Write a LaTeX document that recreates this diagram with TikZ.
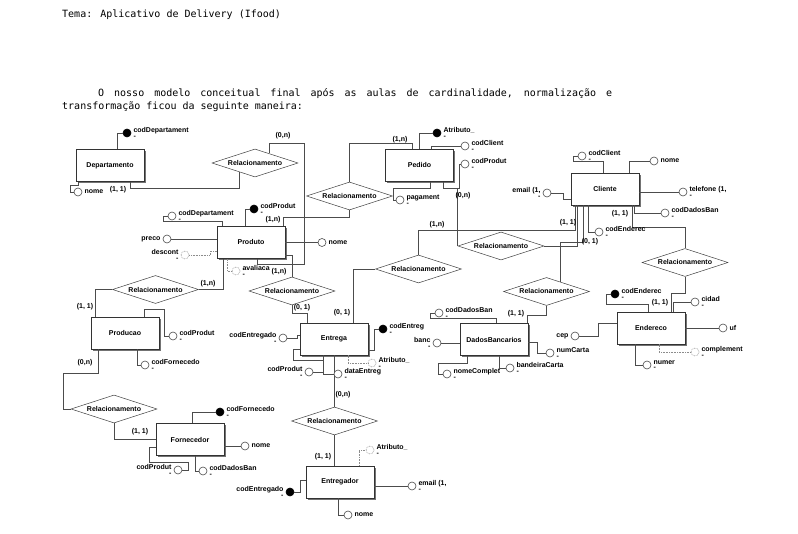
\documentclass[tikz,border=0pt]{standalone}
\usepackage{fontspec}
\newfontfamily\lblfont{Liberation Sans}
\newfontfamily\txtfont{DejaVu Sans Mono}
\usetikzlibrary{shapes.geometric,shadows,positioning}

\begin{document}
\begin{tikzpicture}%
	[x=1pt, y=-1pt,
	lbl/.style={font=\lblfont\fontsize{7}{7.5}\selectfont\bfseries},
	entity/.style={lbl, rectangle, draw=black!80, line width=0.8pt, fill=white,
		minimum width=68pt, minimum height=32pt, inner sep=0pt,
		drop shadow={shadow xshift=1.6pt, shadow yshift=-1.6pt, fill=black!55, opacity=1}},
	relation/.style={lbl, diamond, aspect=3, draw=black!75, line width=0.5pt, fill=white,
		minimum width=86pt, minimum height=28pt, inner sep=0pt},
	attr/.style={circle, draw=black!70, line width=0.6pt, fill=white, minimum size=8pt, inner sep=0pt},
	keyattr/.style={attr, fill=black, draw=black},
	optattr/.style={attr, draw=black!50, densely dotted},
	link/.style={draw=black!70, line width=0.6pt},
	optlink/.style={draw=black!45, line width=0.6pt, densely dotted},
	card/.style={lbl, inner sep=0pt},
	rname/.style={lbl, inner sep=0pt, align=left},
	lname/.style={lbl, inner sep=0pt, align=right},
	heading/.style={font=\txtfont\fontsize{10}{12}\selectfont, inner sep=0pt, text=black}]
	%
	\fill[white] (0,0) rectangle (798,534);
	%%
	%% Text above the model
	%%
	\node[heading, anchor=base west] (tema) at (62,18) {Tema: Aplicativo de Delivery (Ifood)};
	\node[heading, anchor=base west] (intro) at (98,97) {\hbox to 514pt{\spaceskip=6pt plus 1fil\relax O nosso modelo conceitual final após as aulas de cardinalidade, normalização e}};
	\node[heading, anchor=base west] (introb) at (62,110) {transformação ficou da seguinte maneira:};
	%%
	%% Entities
	%%
	\node[entity] (dep) at (110,165.5) {Departamento};
	\node[entity] (prod) at (251,242.5) {Produto};
	\node[entity] (ped) at (419.5,165.5) {Pedido};
	\node[entity] (cli) at (605,189) {Cliente};
	\node[entity] (ender) at (651,328) {Endereco};
	\node[entity] (dad) at (494,339.5) {DadosBancarios};
	\node[entity] (ent) at (334,339) {Entrega};
	\node[entity] (pro) at (125,333) {Producao};
	\node[entity] (forn) at (190,439.5) {Fornecedor};
	\node[entity] (egr) at (340,482) {Entregador};
	%%
	%% Relationships
	%%
	\node[relation] (rdp) at (255,163) {Relacionamento};
	\node[relation] (rpp) at (349.5,196) {Relacionamento};
	\node[relation] (rpc) at (501,246) {Relacionamento};
	\node[relation] (rec) at (418.5,269) {Relacionamento};
	\node[relation] (rpe) at (292,291) {Relacionamento};
	\node[relation] (rpr) at (155.5,289.5) {Relacionamento};
	\node[relation] (rdb) at (546.5,291.5) {Relacionamento};
	\node[relation] (rce) at (685,262.5) {Relacionamento};
	\node[relation] (rpf) at (114,409) {Relacionamento};
	\node[relation] (rer) at (334.5,421) {Relacionamento};
	%%
	%% Lines between entities and relationships
	%%
	\draw[link] ([xshift=20pt]dep.south) -- ++(0,6) -| (rdp.211);
	\draw[link] (rdp.34) |- (304,143) -- (304,264) -| ([xshift=6pt]prod.south);
	\draw[link] ([xshift=-2pt]prod.north east) -- ++(0,-9) -| (rpp.south);
	\draw[link] (rpp.north) -- ++(0,-38) -| ([xshift=-7.5pt]ped.north);
	\draw[link] ([xshift=23.5pt]ped.south) -- ++(0,6) -| (rpc.west);
	\draw[link] (rpc.east) -| ([xshift=-28pt]cli.south);
	\draw[link] (rec.north) -- ++(0,-24) -| ([xshift=-30pt]cli.south);
	\draw[link] ([xshift=19pt]ent.north) |- (rec.west);
	\draw[link] (rdb.35) -- ++(0,-39.5) -| ([xshift=-22pt]cli.south);
	\draw[link] ([xshift=-1pt]dad.north east) -- ++(0,-8) -| (rdb.south);
	\draw[link] ([xshift=27pt]cli.south) -- ++(0,22) -| (rce.north);
	\draw[link] (rce.south) -- ++(0,17) -| ([xshift=20pt]ender.north);
	\draw[link] ([xshift=-28pt]prod.south) |- (rpr.east);
	\draw[link] (rpr.west) -| ([xshift=-30pt]pro.north);
	\draw[link] ([yshift=3.5pt]prod.south east) -| (rpe.north);
	\draw[link] (rpe.south) -- ++(0,8) -| ([xshift=-27pt]ent.north);
	\draw[link] ([xshift=-27pt]pro.south) -- ++(0,24) -| ([xshift=-7pt]rpf.west) -- (rpf.west);
	\draw[link] (rpf.south) |- (forn.west);
	\draw[link] (ent.south) -- (ent.south |- rer.north);
	\draw[link] (rer.south) -- (rer.south |- egr.north);
	%%
	%% Cardinalities
	%%
	\node[card] (cdep) at (118,190) {(1, 1)};
	\node[card] (cprodb) at (283,136) {(0,n)};
	\node[card] (cprodc) at (273,220) {(1,n)};
	\node[card] (cpeda) at (400,140) {(1,n)};
	\node[card] (cpedb) at (463,196) {(0,n)};
	\node[card] (ccla) at (568,223) {(1, 1)};
	\node[card] (cent) at (437,225) {(1,n)};
	\node[card] (cclb) at (590,242) {(0, 1)};
	\node[card] (cclc) at (620,214) {(1, 1)};
	\node[card] (cender) at (660,303) {(1, 1)};
	\node[card] (cdad) at (516,314) {(1, 1)};
	\node[card] (centa) at (342,313) {(0, 1)};
	\node[card] (centb) at (302,308) {(0, 1)};
	\node[card] (cprodd) at (279,272) {(1,n)};
	\node[card] (cproda) at (208,284) {(1,n)};
	\node[card] (cproa) at (85,307) {(1, 1)};
	\node[card] (cprob) at (85,363) {(0,n)};
	\node[card] (cforn) at (140,432) {(1, 1)};
	\node[card] (centc) at (343,395) {(0,n)};
	\node[card] (cegr) at (323,457) {(1, 1)};
	%%
	%% Attributes of Departamento
	%%
	\node[keyattr] (dpcod) at (127,133) {};
	\node[rname, right=2pt of dpcod] (dpcodl) {codDepartament\\[-2pt]-};
	\node[attr] (dpnome) at (78,192) {};
	\node[rname, right=2pt of dpnome] (dpnomel) {nome};
	\draw[link] ([xshift=7pt]dep.north) |- (dpcod);
	\draw[link] ([xshift=3pt]dep.south west) -- ++(0,3) -| ([xshift=-8pt]dpnome.center) -- (dpnome);
	%%
	%% Attributes of Produto
	%%
	\node[keyattr] (pdcod) at (254,209) {};
	\node[rname, right=2pt of pdcod] (pdcodl) {codProdut\\[-2pt]-};
	\node[attr] (pddep) at (172,216) {};
	\node[rname, right=2pt of pddep] (pddepl) {codDepartament\\[-2pt]-};
	\node[attr] (pdpreco) at (167,239) {};
	\node[lname, left=2pt of pdpreco] (pdprecol) {preco};
	\node[optattr] (pddesc) at (185,255) {};
	\node[lname, left=2pt of pddesc] (pddescl) {descont\\[-2pt]-};
	\node[attr] (pdnome) at (322,242.5) {};
	\node[rname, right=2pt of pdnome] (pdnomel) {nome};
	\node[optattr] (pdaval) at (236,271) {};
	\node[rname, right=2pt of pdaval] (pdavall) {avaliaca\\[-2pt]-};
	\draw[link] ([xshift=-6pt]prod.north) |- (pdcod);
	\draw[link] ([xshift=-29pt]prod.north) -- ++(0,-5) -| ([xshift=-9pt]pddep.center) -- (pddep);
	\draw[link] (pdpreco) -- (pdpreco -| prod.west);
	\draw[optlink] (pddesc) -- ++(25,0) |- ([yshift=-9pt]prod.west);
	\draw[link] (prod.east) -- (pdnome);
	\draw[optlink] ([xshift=-24pt]prod.south) |- (pdaval);
	%%
	%% Attributes of Pedido
	%%
	\node[keyattr] (peatr) at (437,133) {};
	\node[rname, right=2pt of peatr] (peatrl) {Atributo\_\\[-2pt]-};
	\node[attr] (pecli) at (465,146) {};
	\node[rname, right=2pt of pecli] (peclil) {codClient\\[-2pt]-};
	\node[attr] (peprod) at (465,164) {};
	\node[rname, right=2pt of peprod] (peprodl) {codProdut\\[-2pt]-};
	\node[attr] (pepag) at (400,200) {};
	\node[rname, right=2pt of pepag] (pepagl) {pagament\\[-2pt]-};
	\draw[link] ([xshift=-0.5pt]ped.north) |- (peatr);
	\draw[link] ([xshift=12pt]ped.north) |- (pecli);
	\draw[link] ([xshift=23.5pt]ped.south) -- ++(0,6) -- ++(16,0) |- (peprod);
	\draw[link] ([xshift=10.5pt]ped.south) -- ++(0,6) -| ([xshift=-7pt]pepag.center) -- (pepag);
	%%
	%% Attributes of Cliente
	%%
	\node[attr] (clcod) at (582,156) {};
	\node[rname, right=2pt of clcod] (clcodl) {codClient\\[-2pt]-};
	\node[attr] (clnome) at (654,161) {};
	\node[rname, right=2pt of clnome] (clnomel) {nome};
	\node[attr] (cltel) at (683,192) {};
	\node[rname, right=2pt of cltel] (cltell) {telefone (1,\\[-2pt]-};
	\node[attr] (cldad) at (665,213) {};
	\node[rname, right=2pt of cldad] (cldadl) {codDadosBan\\[-2pt]-};
	\node[attr] (clmail) at (547,193) {};
	\node[lname, left=2pt of clmail] (clmaill) {email (1,\\[-2pt]-};
	\node[attr] (clend) at (599,232) {};
	\node[rname, right=2pt of clend] (clendl) {codEnderec\\[-2pt]-};
	\draw[link] ([xshift=-2pt]cli.north) -- ++(0,-11) -| ([xshift=-9pt]clcod.center) -- (clcod);
	\draw[link] ([xshift=24pt]cli.north) |- (clnome);
	\draw[link] (cli.east |- cltel) -- (cltel);
	\draw[link] ([xshift=29pt]cli.south) |- (cldad);
	\draw[link] (clmail) -- ++(16,0) |- ([yshift=-10pt]cli.west);
	\draw[link] ([xshift=-17pt]cli.south) |- (clend);
	%%
	%% Attributes of Endereco
	%%
	\node[keyattr] (encod) at (615,294) {};
	\node[rname, right=2pt of encod] (encodl) {codEnderec\\[-2pt]-};
	\node[attr] (encid) at (695,302) {};
	\node[rname, right=2pt of encid] (encidl) {cidad\\[-2pt]-};
	\node[attr] (enuf) at (723,328) {};
	\node[rname, right=2pt of enuf] (enufl) {uf};
	\node[optattr] (encomp) at (695,352) {};
	\node[rname, right=2pt of encomp] (encompl) {complement\\[-2pt]-};
	\node[attr] (ennum) at (647,365) {};
	\node[rname, right=2pt of ennum] (ennuml) {numer\\[-2pt]-};
	\node[attr] (encep) at (575,336) {};
	\node[lname, left=2pt of encep] (encepl) {cep};
	\draw[link] ([xshift=-3pt]ender.north) -- ++(0,-7) -| ([xshift=-9pt]encod.center) -- (encod);
	\draw[link] ([xshift=22pt]ender.north) |- (encid);
	\draw[link] (ender.east) -- (enuf);
	\draw[optlink] ([xshift=8pt]ender.south) |- (encomp);
	\draw[link] ([xshift=-16pt]ender.south) |- (ennum);
	\draw[link] (encep) -- ++(23,0) |- ([yshift=5pt]ender.west);
	%%
	%% Attributes of DadosBancarios
	%%
	\node[attr] (dbcod) at (439,313) {};
	\node[rname, right=2pt of dbcod] (dbcodl) {codDadosBan\\[-2pt]-};
	\node[attr] (dbbanc) at (437,343) {};
	\node[lname, left=2pt of dbbanc] (dbbancl) {banc\\[-2pt]-};
	\node[attr] (dbnome) at (447,374) {};
	\node[rname, right=2pt of dbnome] (dbnomel) {nomeComplet\\[-2pt]-};
	\node[attr] (dbband) at (510,368) {};
	\node[rname, right=2pt of dbband] (dbbandl) {bandeiraCarta\\[-2pt]-};
	\node[attr] (dbnum) at (550,353) {};
	\node[rname, right=2pt of dbnum] (dbnuml) {numCarta\\[-2pt]-};
	\draw[link] ([xshift=2pt]dad.north) -- ++(0,-5) -| ([xshift=-9pt]dbcod.center) -- (dbcod);
	\draw[link] (dbbanc) -- (dbbanc -| dad.west);
	\draw[link] ([xshift=-27pt]dad.south) -- ++(0,7) -| ([xshift=-9pt]dbnome.center) -- (dbnome);
	\draw[link] ([xshift=5pt]dad.south) |- (dbband);
	\draw[link] ([yshift=-2.5pt]dad.east) -- ++(9,0) |- (dbnum);
	%%
	%% Attributes of Entrega
	%%
	\node[keyattr] (etcod) at (383,329) {};
	\node[rname, right=2pt of etcod] (etcodl) {codEntreg\\[-2pt]-};
	\node[optattr] (etatr) at (372,363) {};
	\node[rname, right=2pt of etatr] (etatrl) {Atributo\_\\[-2pt]-};
	\node[attr] (etdata) at (338,374) {};
	\node[rname, right=2pt of etdata] (etdatal) {dataEntreg\\[-2pt]-};
	\node[attr] (etprod) at (309,372) {};
	\node[lname, left=2pt of etprod] (etprodl) {codProdut\\[-2pt]-};
	\node[attr] (etegr) at (283,338) {};
	\node[lname, left=2pt of etegr] (etegrl) {codEntregado\\[-2pt]-};
	\draw[link] ([yshift=5pt]ent.south east) -- ++(6,0) |- (etcod);
	\draw[optlink] ([xshift=14pt]ent.south) |- (etatr);
	\draw[link] ([xshift=-11pt]ent.south) |- (etdata);
	\draw[link] ([yshift=-10pt]ent.west) -- ++(-6,0) -- ++(0,11) -| ([xshift=14pt]etprod.center) -- (etprod);
	\draw[link] (etegr) -- ++(14,0) |- ([yshift=4pt]ent.west);
	%%
	%% Attributes of Entregador
	%%
	\node[optattr] (egatr) at (370,450) {};
	\node[rname, right=2pt of egatr] (egatrl) {Atributo\_\\[-2pt]-};
	\node[keyattr] (egcod) at (290,492) {};
	\node[lname, left=2pt of egcod] (egcodl) {codEntregado\\[-2pt]-};
	\node[attr] (egmail) at (412,486) {};
	\node[rname, right=2pt of egmail] (egmaill) {email (1,\\[-2pt]-};
	\node[attr] (egnome) at (348,515) {};
	\node[rname, right=2pt of egnome] (egnomel) {nome};
	\draw[optlink] ([xshift=19pt]egr.north) |- (egatr);
	\draw[link] (egcod) -- ++(10,0) |- ([yshift=2pt]egr.west);
	\draw[link] ([yshift=-4pt]egr.east) -- (egmail);
	\draw[link] ([xshift=-2pt]egr.south) |- (egnome);
	%%
	%% Attributes of Fornecedor
	%%
	\node[keyattr] (focod) at (220,412) {};
	\node[rname, right=2pt of focod] (focodl) {codFornecedo\\[-2pt]-};
	\node[attr] (fonome) at (245,446) {};
	\node[rname, right=2pt of fonome] (fonomel) {nome};
	\node[attr] (foprod) at (178,470) {};
	\node[lname, left=2pt of foprod] (foprodl) {codProdut\\[-2pt]-};
	\node[attr] (fodad) at (203,471) {};
	\node[rname, right=2pt of fodad] (fodadl) {codDadosBan\\[-2pt]-};
	\draw[link] ([xshift=2pt]forn.north) |- (focod);
	\draw[link] ([yshift=-6.5pt]forn.east) -- (fonome);
	\draw[link] ([yshift=-7.5pt]forn.west) -- ++(-6,0) -- ++(0,15) -| ([xshift=10pt]foprod.center) -- (foprod);
	\draw[link] ([xshift=5pt]forn.south) |- (fodad);
	%%
	%% Attributes of Producao
	%%
	\node[attr] (prprod) at (173,336) {};
	\node[rname, right=2pt of prprod] (prprodl) {codProdut\\[-2pt]-};
	\node[attr] (prforn) at (145,365) {};
	\node[rname, right=2pt of prforn] (prfornl) {codFornecedo\\[-2pt]-};
	\draw[link] ([xshift=19pt]pro.north) -- ++(0,-7) -| ([xshift=-9pt]prprod.center) -- (prprod);
	\draw[link] ([xshift=12pt]pro.south) |- (prforn);
\end{tikzpicture}
\end{document}
